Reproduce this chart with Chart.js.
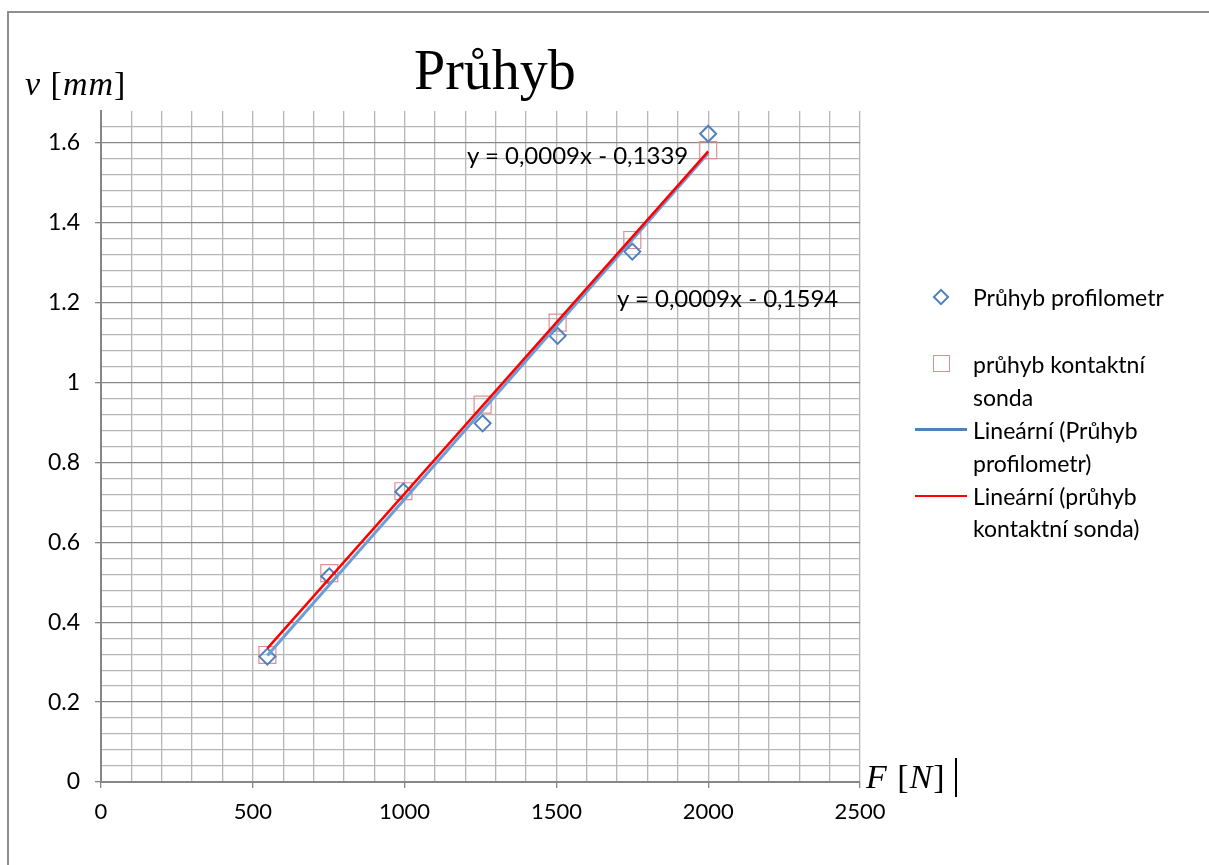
<!DOCTYPE html>
<html>
<head>
<meta charset="utf-8">
<script src="https://cdn.jsdelivr.net/npm/chart.js@4.4.1/dist/chart.umd.min.js"></script>
<style>
body { margin: 0; background: #fff; }
#wrap { position: relative; width: 1209px; height: 865px; overflow: hidden; }
#frame { position: absolute; left: 7px; top: 11px; width: 1300px; height: 900px;
  border-top: 2px solid #8e8e8e; border-left: 2px solid #8e8e8e; }
canvas { position: absolute; left: 0; top: 0; }
.t { position: absolute; white-space: nowrap; color: #000; font-family: Lato, sans-serif; }
.serif { font-family: "Liberation Serif", "DejaVu Serif", serif; }
</style>
</head>
<body>
<div id="wrap">
  <div id="frame"></div>
  <canvas id="myChart" width="1209" height="865"></canvas>
  <div id="labels"></div>
</div>
<script>
// values
var sily = [548, 752, 996, 1257, 1504, 1750, 2000];           // F [N]
var profilometr = [0.314, 0.515, 0.727, 0.898, 1.117, 1.328, 1.623]; // v [mm]
var sonda = [0.318, 0.523, 0.728, 0.945, 1.150, 1.357, 1.582];       // v [mm]
var xLabels = [0, 500, 1000, 1500, 2000, 2500];
var yLabels = [0, 0.2, 0.4, 0.6, 0.8, 1, 1.2, 1.4, 1.6];
var rovnice = ['y = 0,0009x - 0,1339', 'y = 0,0009x - 0,1594'];

function body(xs, ys) {
    return xs.map(function(x, i) { return {x: x, y: ys[i]}; });
}

// linear least squares, like excel trendline
function trend(xs, ys) {
    var n = xs.length, sx = 0, sy = 0, sxx = 0, sxy = 0;
    for (var i = 0; i < n; i++) {
        sx += xs[i]; sy += ys[i]; sxx += xs[i] * xs[i]; sxy += xs[i] * ys[i];
    }
    var k = (n * sxy - sx * sy) / (n * sxx - sx * sx);
    var q = (sy - k * sx) / n;
    var a = Math.min.apply(null, xs), b = Math.max.apply(null, xs);
    return [{x: a, y: k * a + q}, {x: b, y: k * b + q}];
}

function isMajor(v, step) {
    return Math.abs(v / step - Math.round(v / step)) < 1e-6;
}

var ctx = document.getElementById('myChart').getContext('2d');
var chart = new Chart(ctx, {
    type: 'scatter',
    data: {
        datasets: [{
            label: 'Průhyb profilometr',
            data: body(sily, profilometr),
            pointStyle: 'rectRot',
            pointRadius: 8,
            pointBorderWidth: 2,
            borderColor: '#4f81bd',
            backgroundColor: 'rgba(0,0,0,0)',
            order: 2
        }, {
            label: 'průhyb kontaktní sonda',
            data: body(sily, sonda),
            pointStyle: 'rect',
            pointRadius: 12,
            pointBorderWidth: 1.2,
            borderColor: '#e08f8f',
            backgroundColor: 'rgba(0,0,0,0)',
            order: 3
        }, {
            label: 'Lineární (Průhyb profilometr)',
            data: trend(sily, profilometr),
            showLine: true,
            pointRadius: 0,
            borderColor: '#6d9dd6',
            borderWidth: 3,
            order: 1
        }, {
            label: 'Lineární (průhyb kontaktní sonda)',
            data: trend(sily, sonda),
            showLine: true,
            pointRadius: 0,
            borderColor: '#ff0000',
            borderWidth: 2.5,
            order: 0
        }]
    },
    options: {
        responsive: false,
        animation: false,
        layout: { padding: { left: 0, top: 111, right: 349, bottom: 0 } },
        plugins: { legend: { display: false }, tooltip: { enabled: false } },
        scales: {
            x: {
                type: 'linear', min: 0, max: 2500,
                afterFit: function(s) { s.height = 83; },
                ticks: {
                    stepSize: 100, autoSkip: false, maxRotation: 0, padding: 11,
                    color: '#000', font: { family: 'Lato', size: 22 },
                    callback: function(v) { return xLabels.indexOf(v) >= 0 ? String(v) : ''; }
                },
                grid: {
                    color: '#b6b6b6', lineWidth: 1.3, tickLength: 6,
                    tickColor: function(c) { return c.tick && isMajor(c.tick.value, 500) ? '#868686' : 'rgba(0,0,0,0)'; }
                },
                border: { color: '#868686', width: 2 }
            },
            y: {
                min: 0, max: 1.68,
                afterFit: function(s) { s.width = 101; },
                ticks: {
                    stepSize: 0.04, autoSkip: false, padding: 15,
                    color: '#000', font: { family: 'Lato', size: 23 },
                    callback: function(v) {
                        if (!isMajor(v, 0.2)) return '';
                        var r = Math.round(v * 10) / 10;
                        return yLabels.indexOf(r) >= 0 ? String(r) : '';
                    }
                },
                grid: {
                    lineWidth: 1.3, tickLength: 6,
                    color: function(c) {
                        if (!c.tick) return '#b6b6b6';
                        if (c.tick.value > 1.67) return 'rgba(0,0,0,0)';
                        return isMajor(c.tick.value, 0.2) ? '#878787' : '#b6b6b6';
                    },
                    tickColor: function(c) { return c.tick && isMajor(c.tick.value, 0.2) ? '#868686' : 'rgba(0,0,0,0)'; }
                },
                border: { color: '#868686', width: 2 }
            }
        }
    }
});

// texts around the chart
var box = document.getElementById('labels');
function text(html, left, middle, size, cls, extra) {
    var d = document.createElement('div');
    d.className = 't ' + (cls || '');
    d.style.left = left + 'px';
    d.style.fontSize = size + 'px';
    d.style.lineHeight = '40px';
    d.style.top = (middle - 20) + 'px';
    if (extra) d.style.cssText += extra;
    d.innerHTML = html;
    box.appendChild(d);
    return d;
}
function shape(css) {
    var d = document.createElement('div');
    d.style.cssText = 'position:absolute;box-sizing:border-box;' + css;
    box.appendChild(d);
}

text('Průhyb', 414, 70, 56, 'serif');
text('<i>v</i> [<i>mm</i>]', 25, 84, 34, 'serif', 'letter-spacing:1px;');
text('<i>F</i> [<i>N</i>]', 866, 777, 34, 'serif', 'letter-spacing:1px;');
shape('left:955px;top:758px;width:2px;height:39px;background:#000;');

text(rovnice[0], 467, 155, 24);
text(rovnice[1], 617, 298, 24);

// legend
var lx = 973;
text('Průhyb profilometr', lx, 297, 23);
text('průhyb kontaktní', lx, 364, 23);
text('sonda', lx, 397, 23);
text('Lineární (Průhyb', lx, 430, 23);
text('profilometr)', lx, 463, 23);
text('Lineární (průhyb', lx, 496, 23);
text('kontaktní sonda)', lx, 528, 23);
shape('left:935px;top:291px;width:12px;height:12px;border:2px solid #4f81bd;transform:rotate(45deg);');
shape('left:933px;top:355px;width:17px;height:17px;border:1px solid #e08f8f;');
shape('left:915px;top:428px;width:52px;height:3px;background:#4f81bd;');
shape('left:915px;top:495px;width:52px;height:2px;background:#ff0000;');
</script>
</body>
</html>
